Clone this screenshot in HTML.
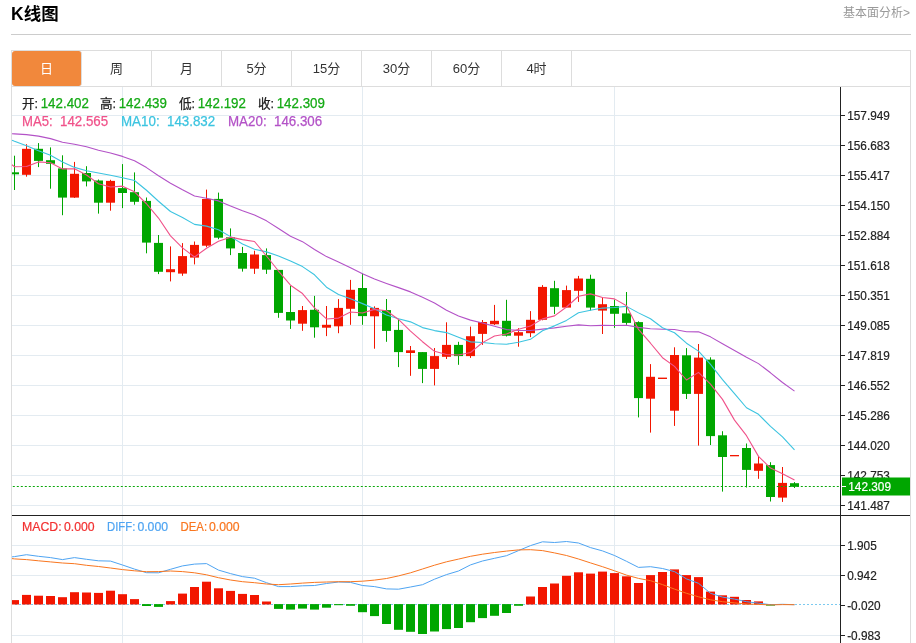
<!DOCTYPE html>
<html lang="zh-CN"><head><meta charset="utf-8"><title>K线图</title>
<style>
html,body{margin:0;padding:0;background:#fff}
body{width:916px;height:643px;overflow:hidden;position:relative;font-family:"Liberation Sans","Noto Sans CJK SC",sans-serif;color:#222}
.title{position:absolute;left:11px;top:2px;font-size:17.5px;font-weight:bold;line-height:24px;color:#000;white-space:nowrap}
.more{position:absolute;right:6px;top:5px;font-size:12px;line-height:16px;color:#999;white-space:nowrap}
.hr{position:absolute;left:11px;top:34px;width:900px;height:1px;background:#ccc}
.tabs{position:absolute;left:11px;top:50px;width:898px;height:35px;border:1px solid #ddd;background:#fff}
.tab{position:absolute;top:0;width:69px;height:35px;border-right:1px solid #ddd;text-align:center;line-height:35px;font-size:13px;color:#333}
.tab.on{background:#f1883c;color:#fff;border-radius:3px}
.frame{position:absolute;left:11px;top:86px;width:898px;height:557px;border-left:1px solid #ddd;border-right:1px solid #ddd}
.chart{position:absolute;left:0;top:0}
</style></head><body>
<div class="title">K线图</div>
<div class="more">基本面分析&gt;</div>
<div class="hr"></div>
<div class="tabs"><div class="tab on" style="left:0px">日</div><div class="tab" style="left:70px">周</div><div class="tab" style="left:140px">月</div><div class="tab" style="left:210px">5分</div><div class="tab" style="left:280px">15分</div><div class="tab" style="left:350px">30分</div><div class="tab" style="left:420px">60分</div><div class="tab" style="left:490px">4时</div></div>
<div class="frame"></div>
<svg class="chart" width="916" height="643" viewBox="0 0 916 643">
<g fill="#e3ebf1" shape-rendering="crispEdges">
<rect x="12" y="115" width="828" height="1"/>
<rect x="12" y="145" width="828" height="1"/>
<rect x="12" y="175" width="828" height="1"/>
<rect x="12" y="205" width="828" height="1"/>
<rect x="12" y="235" width="828" height="1"/>
<rect x="12" y="265" width="828" height="1"/>
<rect x="12" y="295" width="828" height="1"/>
<rect x="12" y="325" width="828" height="1"/>
<rect x="12" y="355" width="828" height="1"/>
<rect x="12" y="385" width="828" height="1"/>
<rect x="12" y="415" width="828" height="1"/>
<rect x="12" y="445" width="828" height="1"/>
<rect x="12" y="475" width="828" height="1"/>
<rect x="12" y="505" width="828" height="1"/>
<rect x="12" y="545" width="828" height="1"/>
<rect x="12" y="575" width="828" height="1"/>
<rect x="12" y="635" width="828" height="1"/>
<rect x="122" y="87" width="1" height="556"/>
<rect x="362" y="87" width="1" height="556"/>
<rect x="614" y="87" width="1" height="556"/>
</g>
<g clip-path="url(#cp)">
<rect x="14" y="155.7" width="1" height="34.3" fill="#00a600"/>
<rect x="10" y="172.3" width="9" height="2.0" fill="#00a600"/>
<rect x="26" y="144.2" width="1" height="32.5" fill="#f21600"/>
<rect x="22" y="148.8" width="9" height="26.0" fill="#f21600"/>
<rect x="38" y="143.1" width="1" height="24.0" fill="#00a600"/>
<rect x="34" y="148.8" width="9" height="12.1" fill="#00a600"/>
<rect x="50" y="147.4" width="1" height="41.3" fill="#00a600"/>
<rect x="46" y="160.2" width="9" height="3.6" fill="#00a600"/>
<rect x="62" y="155.3" width="1" height="59.9" fill="#00a600"/>
<rect x="58" y="168.4" width="9" height="29.2" fill="#00a600"/>
<rect x="74" y="161.9" width="1" height="36.0" fill="#f21600"/>
<rect x="70" y="173.8" width="9" height="23.8" fill="#f21600"/>
<rect x="86" y="166.2" width="1" height="20.2" fill="#00a600"/>
<rect x="82" y="173.0" width="9" height="8.4" fill="#00a600"/>
<rect x="98" y="179.5" width="1" height="34.1" fill="#00a600"/>
<rect x="94" y="180.5" width="9" height="22.2" fill="#00a600"/>
<rect x="110" y="179.8" width="1" height="30.9" fill="#f21600"/>
<rect x="106" y="180.9" width="9" height="21.8" fill="#f21600"/>
<rect x="122" y="164.1" width="1" height="44.0" fill="#00a600"/>
<rect x="118" y="188.1" width="9" height="4.9" fill="#00a600"/>
<rect x="134" y="172.4" width="1" height="32.3" fill="#00a600"/>
<rect x="130" y="192.2" width="9" height="9.6" fill="#00a600"/>
<rect x="146" y="197.5" width="1" height="55.8" fill="#00a600"/>
<rect x="142" y="200.9" width="9" height="41.7" fill="#00a600"/>
<rect x="158" y="235.0" width="1" height="39.1" fill="#00a600"/>
<rect x="154" y="242.9" width="9" height="28.9" fill="#00a600"/>
<rect x="170" y="246.4" width="1" height="35.0" fill="#f21600"/>
<rect x="166" y="269.2" width="9" height="3.0" fill="#f21600"/>
<rect x="182" y="243.1" width="1" height="32.7" fill="#f21600"/>
<rect x="178" y="256.1" width="9" height="17.5" fill="#f21600"/>
<rect x="194" y="241.5" width="1" height="22.9" fill="#f21600"/>
<rect x="190" y="244.9" width="9" height="12.7" fill="#f21600"/>
<rect x="206" y="189.6" width="1" height="57.6" fill="#f21600"/>
<rect x="202" y="198.9" width="9" height="46.8" fill="#f21600"/>
<rect x="218" y="192.6" width="1" height="46.6" fill="#00a600"/>
<rect x="214" y="198.9" width="9" height="38.8" fill="#00a600"/>
<rect x="230" y="228.4" width="1" height="26.7" fill="#00a600"/>
<rect x="226" y="237.3" width="9" height="11.1" fill="#00a600"/>
<rect x="242" y="246.9" width="1" height="24.7" fill="#00a600"/>
<rect x="238" y="253.0" width="9" height="15.7" fill="#00a600"/>
<rect x="254" y="250.7" width="1" height="23.2" fill="#f21600"/>
<rect x="250" y="254.5" width="9" height="14.2" fill="#f21600"/>
<rect x="266" y="248.4" width="1" height="25.5" fill="#00a600"/>
<rect x="262" y="255.1" width="9" height="14.6" fill="#00a600"/>
<rect x="278" y="269.9" width="1" height="47.9" fill="#00a600"/>
<rect x="274" y="269.9" width="9" height="43.0" fill="#00a600"/>
<rect x="290" y="285.7" width="1" height="43.2" fill="#00a600"/>
<rect x="286" y="312.0" width="9" height="8.5" fill="#00a600"/>
<rect x="302" y="306.0" width="1" height="24.8" fill="#f21600"/>
<rect x="298" y="310.1" width="9" height="13.6" fill="#f21600"/>
<rect x="314" y="295.9" width="1" height="41.8" fill="#00a600"/>
<rect x="310" y="309.8" width="9" height="17.5" fill="#00a600"/>
<rect x="326" y="306.0" width="1" height="30.1" fill="#f21600"/>
<rect x="322" y="324.8" width="9" height="2.9" fill="#f21600"/>
<rect x="338" y="299.1" width="1" height="34.1" fill="#f21600"/>
<rect x="334" y="307.9" width="9" height="18.4" fill="#f21600"/>
<rect x="350" y="279.9" width="1" height="44.9" fill="#f21600"/>
<rect x="346" y="289.8" width="9" height="19.0" fill="#f21600"/>
<rect x="362" y="273.5" width="1" height="51.3" fill="#00a600"/>
<rect x="358" y="288.0" width="9" height="28.1" fill="#00a600"/>
<rect x="374" y="306.3" width="1" height="42.4" fill="#f21600"/>
<rect x="370" y="307.9" width="9" height="8.4" fill="#f21600"/>
<rect x="386" y="299.0" width="1" height="42.8" fill="#00a600"/>
<rect x="382" y="310.1" width="9" height="20.8" fill="#00a600"/>
<rect x="398" y="318.9" width="1" height="48.2" fill="#00a600"/>
<rect x="394" y="329.9" width="9" height="22.2" fill="#00a600"/>
<rect x="410" y="346.0" width="1" height="29.8" fill="#f21600"/>
<rect x="406" y="350.3" width="9" height="2.7" fill="#f21600"/>
<rect x="422" y="352.1" width="1" height="31.0" fill="#00a600"/>
<rect x="418" y="352.1" width="9" height="16.8" fill="#00a600"/>
<rect x="434" y="348.0" width="1" height="37.4" fill="#f21600"/>
<rect x="430" y="356.1" width="9" height="12.8" fill="#f21600"/>
<rect x="446" y="322.3" width="1" height="36.7" fill="#f21600"/>
<rect x="442" y="344.9" width="9" height="11.9" fill="#f21600"/>
<rect x="458" y="341.8" width="1" height="23.0" fill="#00a600"/>
<rect x="454" y="344.9" width="9" height="11.2" fill="#00a600"/>
<rect x="470" y="326.6" width="1" height="31.3" fill="#f21600"/>
<rect x="466" y="336.2" width="9" height="19.9" fill="#f21600"/>
<rect x="482" y="320.0" width="1" height="24.9" fill="#f21600"/>
<rect x="478" y="322.0" width="9" height="11.9" fill="#f21600"/>
<rect x="494" y="304.9" width="1" height="20.1" fill="#f21600"/>
<rect x="490" y="320.8" width="9" height="3.5" fill="#f21600"/>
<rect x="506" y="299.8" width="1" height="36.7" fill="#00a600"/>
<rect x="502" y="320.8" width="9" height="14.9" fill="#00a600"/>
<rect x="518" y="328.1" width="1" height="18.6" fill="#f21600"/>
<rect x="514" y="332.2" width="9" height="3.5" fill="#f21600"/>
<rect x="530" y="311.1" width="1" height="26.0" fill="#f21600"/>
<rect x="526" y="319.8" width="9" height="13.4" fill="#f21600"/>
<rect x="542" y="285.1" width="1" height="35.2" fill="#f21600"/>
<rect x="538" y="286.9" width="9" height="32.9" fill="#f21600"/>
<rect x="554" y="280.8" width="1" height="33.3" fill="#00a600"/>
<rect x="550" y="288.2" width="9" height="18.6" fill="#00a600"/>
<rect x="566" y="285.6" width="1" height="22.0" fill="#f21600"/>
<rect x="562" y="290.1" width="9" height="17.5" fill="#f21600"/>
<rect x="578" y="275.9" width="1" height="26.0" fill="#f21600"/>
<rect x="574" y="278.5" width="9" height="12.3" fill="#f21600"/>
<rect x="590" y="274.7" width="1" height="35.9" fill="#00a600"/>
<rect x="586" y="278.8" width="9" height="28.8" fill="#00a600"/>
<rect x="602" y="297.3" width="1" height="36.7" fill="#f21600"/>
<rect x="598" y="304.2" width="9" height="6.4" fill="#f21600"/>
<rect x="614" y="299.6" width="1" height="28.3" fill="#00a600"/>
<rect x="610" y="306.0" width="9" height="7.8" fill="#00a600"/>
<rect x="626" y="292.0" width="1" height="32.8" fill="#00a600"/>
<rect x="622" y="313.4" width="9" height="9.5" fill="#00a600"/>
<rect x="638" y="321.3" width="1" height="96.1" fill="#00a600"/>
<rect x="634" y="322.1" width="9" height="76.0" fill="#00a600"/>
<rect x="650" y="364.1" width="1" height="68.5" fill="#f21600"/>
<rect x="646" y="376.8" width="9" height="21.9" fill="#f21600"/>
<rect x="658" y="377.6" width="9" height="1.4" fill="#f21600"/>
<rect x="674" y="347.3" width="1" height="78.6" fill="#f21600"/>
<rect x="670" y="355.0" width="9" height="55.7" fill="#f21600"/>
<rect x="686" y="348.1" width="1" height="50.9" fill="#00a600"/>
<rect x="682" y="355.3" width="9" height="38.6" fill="#00a600"/>
<rect x="698" y="344.0" width="1" height="101.6" fill="#f21600"/>
<rect x="694" y="357.6" width="9" height="36.3" fill="#f21600"/>
<rect x="710" y="357.3" width="1" height="87.7" fill="#00a600"/>
<rect x="706" y="359.6" width="9" height="76.5" fill="#00a600"/>
<rect x="722" y="431.2" width="1" height="60.4" fill="#00a600"/>
<rect x="718" y="435.3" width="9" height="21.7" fill="#00a600"/>
<rect x="730" y="455.0" width="9" height="1.3" fill="#f21600"/>
<rect x="746" y="443.5" width="1" height="44.0" fill="#00a600"/>
<rect x="742" y="448.0" width="9" height="21.9" fill="#00a600"/>
<rect x="758" y="456.2" width="1" height="22.6" fill="#f21600"/>
<rect x="754" y="463.5" width="9" height="7.3" fill="#f21600"/>
<rect x="770" y="462.2" width="1" height="39.3" fill="#00a600"/>
<rect x="766" y="465.1" width="9" height="31.9" fill="#00a600"/>
<rect x="782" y="467.0" width="1" height="34.9" fill="#f21600"/>
<rect x="778" y="482.9" width="9" height="14.7" fill="#f21600"/>
<rect x="794" y="482.1" width="1" height="5.9" fill="#00a600"/>
<rect x="790" y="483.2" width="9" height="3.6" fill="#00a600"/>
</g>
<defs><clipPath id="cp"><rect x="12" y="87" width="828" height="556"/></clipPath></defs>
<path d="M12.0,133.70 L14.5,133.90 L26.5,134.60 L38.5,136.10 L50.5,138.60 L62.5,142.30 L74.5,144.20 L86.5,146.80 L98.5,150.30 L110.5,153.00 L122.5,156.40 L134.5,160.80 L146.5,167.60 L158.5,175.80 L170.5,183.20 L182.5,189.80 L194.5,196.00 L206.5,198.30 L218.5,200.90 L230.5,205.90 L242.5,210.83 L254.5,214.99 L266.5,220.86 L278.5,228.56 L290.5,236.23 L302.5,241.64 L314.5,249.43 L326.5,256.61 L338.5,262.09 L350.5,267.76 L362.5,273.74 L374.5,279.04 L386.5,283.40 L398.5,287.61 L410.5,291.89 L422.5,297.31 L434.5,302.94 L446.5,310.19 L458.5,316.05 L470.5,320.14 L482.5,322.97 L494.5,326.18 L506.5,329.58 L518.5,330.41 L530.5,330.50 L542.5,329.17 L554.5,327.86 L566.5,326.24 L578.5,324.90 L590.5,325.80 L602.5,325.40 L614.5,325.55 L626.5,325.30 L638.5,327.40 L650.5,328.76 L662.5,329.18 L674.5,329.50 L686.5,331.68 L698.5,331.86 L710.5,336.86 L722.5,343.69 L734.5,350.49 L746.5,357.29 L758.5,363.63 L770.5,372.81 L782.5,382.46 L794.5,391.16" fill="none" stroke="#b352c7" stroke-width="1.1" stroke-linejoin="round" />
<path d="M12.0,140.30 L14.5,141.30 L26.5,145.70 L38.5,150.70 L50.5,155.30 L62.5,162.10 L74.5,167.40 L86.5,170.70 L98.5,173.00 L110.5,175.30 L122.5,177.76 L134.5,180.48 L146.5,190.28 L158.5,201.22 L170.5,211.54 L182.5,217.52 L194.5,224.37 L206.5,226.15 L218.5,229.79 L230.5,236.62 L242.5,244.00 L254.5,249.19 L266.5,251.89 L278.5,255.90 L290.5,260.91 L302.5,266.62 L314.5,274.78 L326.5,287.23 L338.5,294.44 L350.5,298.81 L362.5,303.63 L374.5,308.80 L386.5,314.91 L398.5,318.82 L410.5,321.86 L422.5,327.60 L434.5,330.59 L446.5,332.59 L458.5,337.31 L470.5,341.87 L482.5,342.52 L494.5,343.76 L506.5,344.21 L518.5,342.31 L530.5,339.33 L542.5,330.78 L554.5,325.87 L566.5,320.38 L578.5,312.75 L590.5,310.17 L602.5,308.08 L614.5,307.43 L626.5,306.39 L638.5,312.88 L650.5,318.78 L662.5,327.72 L674.5,332.78 L686.5,343.17 L698.5,351.12 L710.5,364.40 L722.5,379.69 L734.5,393.60 L746.5,407.75 L758.5,414.32 L770.5,426.43 L782.5,436.94 L794.5,449.88" fill="none" stroke="#3cc4e0" stroke-width="1.1" stroke-linejoin="round" />
<path d="M12.0,164.80 L14.5,166.70 L26.5,166.50 L38.5,161.90 L50.5,162.80 L62.5,168.89 L74.5,168.84 L86.5,175.05 L98.5,183.68 L110.5,187.04 L122.5,186.13 L134.5,191.78 L146.5,203.75 L158.5,218.06 L170.5,235.84 L182.5,247.90 L194.5,256.96 L206.5,248.24 L218.5,241.23 L230.5,237.15 L242.5,239.61 L254.5,241.52 L266.5,256.00 L278.5,271.02 L290.5,285.18 L302.5,293.57 L314.5,307.95 L326.5,318.96 L338.5,318.11 L350.5,311.99 L362.5,312.94 L374.5,309.35 L386.5,310.81 L398.5,319.43 L410.5,331.08 L422.5,341.71 L434.5,351.33 L446.5,354.43 L458.5,355.03 L470.5,352.47 L482.5,342.63 L494.5,336.00 L506.5,333.93 L518.5,329.24 L530.5,326.00 L542.5,318.89 L554.5,315.89 L566.5,306.98 L578.5,296.26 L590.5,293.89 L602.5,297.52 L614.5,298.87 L626.5,305.70 L638.5,329.41 L650.5,343.23 L662.5,357.72 L674.5,366.39 L686.5,379.99 L698.5,372.34 L710.5,384.17 L722.5,399.36 L734.5,420.11 L746.5,435.71 L758.5,456.40 L770.5,468.09 L782.5,473.83 L794.5,479.91" fill="none" stroke="#f0528a" stroke-width="1.1" stroke-linejoin="round" />
<path d="M12.8,486.5 H840" stroke="#0aa80a" stroke-width="1" stroke-dasharray="2,2" fill="none"/>
<path d="M15,604.5 H840" stroke="#7ccaf0" stroke-width="1" stroke-dasharray="2,2" fill="none"/>
<g clip-path="url(#cp)">
<rect x="10" y="600.1" width="9" height="4.4" fill="#f21600"/>
<rect x="22" y="594.9" width="9" height="9.6" fill="#f21600"/>
<rect x="34" y="595.7" width="9" height="8.8" fill="#f21600"/>
<rect x="46" y="596.0" width="9" height="8.5" fill="#f21600"/>
<rect x="58" y="597.2" width="9" height="7.3" fill="#f21600"/>
<rect x="70" y="592.2" width="9" height="12.3" fill="#f21600"/>
<rect x="82" y="592.5" width="9" height="12.0" fill="#f21600"/>
<rect x="94" y="592.9" width="9" height="11.6" fill="#f21600"/>
<rect x="106" y="590.7" width="9" height="13.8" fill="#f21600"/>
<rect x="118" y="594.2" width="9" height="10.3" fill="#f21600"/>
<rect x="130" y="599.1" width="9" height="5.4" fill="#f21600"/>
<rect x="142" y="604.1" width="9" height="1.9" fill="#00a600"/>
<rect x="154" y="604.1" width="9" height="2.8" fill="#00a600"/>
<rect x="166" y="601.1" width="9" height="3.4" fill="#f21600"/>
<rect x="178" y="593.6" width="9" height="10.9" fill="#f21600"/>
<rect x="190" y="587.0" width="9" height="17.5" fill="#f21600"/>
<rect x="202" y="581.7" width="9" height="22.8" fill="#f21600"/>
<rect x="214" y="588.3" width="9" height="16.2" fill="#f21600"/>
<rect x="226" y="590.9" width="9" height="13.6" fill="#f21600"/>
<rect x="238" y="593.9" width="9" height="10.6" fill="#f21600"/>
<rect x="250" y="595.0" width="9" height="9.5" fill="#f21600"/>
<rect x="262" y="601.5" width="9" height="3.0" fill="#f21600"/>
<rect x="274" y="604.1" width="9" height="4.8" fill="#00a600"/>
<rect x="286" y="604.1" width="9" height="5.5" fill="#00a600"/>
<rect x="298" y="604.1" width="9" height="4.5" fill="#00a600"/>
<rect x="310" y="604.1" width="9" height="5.5" fill="#00a600"/>
<rect x="322" y="604.1" width="9" height="3.6" fill="#00a600"/>
<rect x="334" y="604.1" width="9" height="1.1" fill="#00a600"/>
<rect x="346" y="604.1" width="9" height="1.7" fill="#00a600"/>
<rect x="358" y="604.1" width="9" height="8.1" fill="#00a600"/>
<rect x="370" y="604.1" width="9" height="12.0" fill="#00a600"/>
<rect x="382" y="604.1" width="9" height="19.9" fill="#00a600"/>
<rect x="394" y="604.1" width="9" height="25.7" fill="#00a600"/>
<rect x="406" y="604.1" width="9" height="27.7" fill="#00a600"/>
<rect x="418" y="604.1" width="9" height="29.9" fill="#00a600"/>
<rect x="430" y="604.1" width="9" height="27.4" fill="#00a600"/>
<rect x="442" y="604.1" width="9" height="25.0" fill="#00a600"/>
<rect x="454" y="604.1" width="9" height="23.9" fill="#00a600"/>
<rect x="466" y="604.1" width="9" height="18.1" fill="#00a600"/>
<rect x="478" y="604.1" width="9" height="14.0" fill="#00a600"/>
<rect x="490" y="604.1" width="9" height="11.7" fill="#00a600"/>
<rect x="502" y="604.1" width="9" height="8.9" fill="#00a600"/>
<rect x="514" y="604.1" width="9" height="1.7" fill="#00a600"/>
<rect x="526" y="596.5" width="9" height="8.0" fill="#f21600"/>
<rect x="538" y="587.0" width="9" height="17.5" fill="#f21600"/>
<rect x="550" y="583.5" width="9" height="21.0" fill="#f21600"/>
<rect x="562" y="575.8" width="9" height="28.7" fill="#f21600"/>
<rect x="574" y="572.3" width="9" height="32.2" fill="#f21600"/>
<rect x="586" y="573.6" width="9" height="30.9" fill="#f21600"/>
<rect x="598" y="571.6" width="9" height="32.9" fill="#f21600"/>
<rect x="610" y="573.1" width="9" height="31.4" fill="#f21600"/>
<rect x="622" y="576.3" width="9" height="28.2" fill="#f21600"/>
<rect x="634" y="583.0" width="9" height="21.5" fill="#f21600"/>
<rect x="646" y="575.1" width="9" height="29.4" fill="#f21600"/>
<rect x="658" y="572.0" width="9" height="32.5" fill="#f21600"/>
<rect x="670" y="569.4" width="9" height="35.1" fill="#f21600"/>
<rect x="682" y="575.1" width="9" height="29.4" fill="#f21600"/>
<rect x="694" y="577.1" width="9" height="27.4" fill="#f21600"/>
<rect x="706" y="591.6" width="9" height="12.9" fill="#f21600"/>
<rect x="718" y="595.3" width="9" height="9.2" fill="#f21600"/>
<rect x="730" y="596.8" width="9" height="7.7" fill="#f21600"/>
<rect x="742" y="600.0" width="9" height="4.5" fill="#f21600"/>
<rect x="754" y="601.4" width="9" height="3.1" fill="#f21600"/>
<rect x="766" y="604.1" width="9" height="1.5" fill="#00a600"/>
</g>
<path d="M12.0,556.90 L14.5,556.60 L26.5,554.70 L38.5,556.30 L50.5,557.60 L62.5,559.60 L74.5,557.60 L86.5,559.30 L98.5,560.80 L110.5,561.10 L122.5,565.00 L134.5,569.10 L146.5,572.70 L158.5,572.80 L170.5,569.30 L182.5,565.90 L194.5,564.10 L206.5,563.60 L218.5,570.10 L230.5,573.60 L242.5,576.60 L254.5,578.20 L266.5,582.70 L278.5,586.60 L290.5,586.60 L302.5,585.80 L314.5,585.50 L326.5,583.50 L338.5,582.00 L350.5,582.40 L362.5,585.50 L374.5,586.60 L386.5,588.90 L398.5,589.20 L410.5,587.00 L422.5,584.70 L434.5,579.20 L446.5,574.60 L458.5,571.00 L470.5,564.90 L482.5,561.00 L494.5,558.30 L506.5,555.70 L518.5,550.60 L530.5,545.60 L542.5,541.80 L554.5,542.50 L566.5,541.50 L578.5,543.00 L590.5,547.60 L602.5,550.90 L614.5,555.50 L626.5,561.30 L638.5,567.40 L650.5,566.70 L662.5,568.50 L674.5,571.60 L686.5,578.90 L698.5,583.30 L710.5,593.30 L722.5,597.10 L734.5,599.10 L746.5,601.70 L758.5,603.20 L770.5,604.70 L782.5,604.30 L794.5,604.70" fill="none" stroke="#4ea4f2" stroke-width="1.0" stroke-linejoin="round" />
<path d="M12.0,558.60 L14.5,558.90 L26.5,559.60 L38.5,560.80 L50.5,561.90 L62.5,563.00 L74.5,563.70 L86.5,565.30 L98.5,566.50 L110.5,568.00 L122.5,569.60 L134.5,570.80 L146.5,571.70 L158.5,571.60 L170.5,571.00 L182.5,571.60 L194.5,572.80 L206.5,574.80 L218.5,577.70 L230.5,580.00 L242.5,581.70 L254.5,582.70 L266.5,584.00 L278.5,584.70 L290.5,584.00 L302.5,583.10 L314.5,582.40 L326.5,582.00 L338.5,581.70 L350.5,581.70 L362.5,581.20 L374.5,580.10 L386.5,578.50 L398.5,575.90 L410.5,572.80 L422.5,569.00 L434.5,565.20 L446.5,561.80 L458.5,559.10 L470.5,556.30 L482.5,554.20 L494.5,552.50 L506.5,551.10 L518.5,549.90 L530.5,549.70 L542.5,550.60 L554.5,552.90 L566.5,555.50 L578.5,559.00 L590.5,562.90 L602.5,566.70 L614.5,570.80 L626.5,575.10 L638.5,578.40 L650.5,580.70 L662.5,584.60 L674.5,589.10 L686.5,593.30 L698.5,596.80 L710.5,599.80 L722.5,601.70 L734.5,602.90 L746.5,604.00 L758.5,604.40 L770.5,604.90 L782.5,604.60 L794.5,604.70" fill="none" stroke="#f9761f" stroke-width="1.0" stroke-linejoin="round" />
<g fill="#222" shape-rendering="crispEdges">
<rect x="840" y="87" width="1" height="556"/>
<rect x="12" y="515" width="898" height="1"/>
<rect x="841" y="115" width="4" height="1"/>
<rect x="841" y="145" width="4" height="1"/>
<rect x="841" y="175" width="4" height="1"/>
<rect x="841" y="205" width="4" height="1"/>
<rect x="841" y="235" width="4" height="1"/>
<rect x="841" y="265" width="4" height="1"/>
<rect x="841" y="295" width="4" height="1"/>
<rect x="841" y="325" width="4" height="1"/>
<rect x="841" y="355" width="4" height="1"/>
<rect x="841" y="385" width="4" height="1"/>
<rect x="841" y="415" width="4" height="1"/>
<rect x="841" y="445" width="4" height="1"/>
<rect x="841" y="475" width="4" height="1"/>
<rect x="841" y="505" width="4" height="1"/>
<rect x="841" y="545" width="4" height="1"/>
<rect x="841" y="575" width="4" height="1"/>
<rect x="841" y="605" width="4" height="1"/>
<rect x="841" y="635" width="4" height="1"/>
</g>
<g font-family="'Liberation Sans',sans-serif" font-size="12.4" fill="#222" stroke="#222" stroke-width="0.2">
<text x="847.2" y="119.7" textLength="42.68" lengthAdjust="spacingAndGlyphs">157.949</text>
<text x="847.2" y="149.7" textLength="42.68" lengthAdjust="spacingAndGlyphs">156.683</text>
<text x="847.2" y="179.7" textLength="42.68" lengthAdjust="spacingAndGlyphs">155.417</text>
<text x="847.2" y="209.7" textLength="42.68" lengthAdjust="spacingAndGlyphs">154.150</text>
<text x="847.2" y="239.7" textLength="42.68" lengthAdjust="spacingAndGlyphs">152.884</text>
<text x="847.2" y="269.7" textLength="42.68" lengthAdjust="spacingAndGlyphs">151.618</text>
<text x="847.2" y="299.7" textLength="42.68" lengthAdjust="spacingAndGlyphs">150.351</text>
<text x="847.2" y="329.7" textLength="42.68" lengthAdjust="spacingAndGlyphs">149.085</text>
<text x="847.2" y="359.7" textLength="42.68" lengthAdjust="spacingAndGlyphs">147.819</text>
<text x="847.2" y="389.7" textLength="42.68" lengthAdjust="spacingAndGlyphs">146.552</text>
<text x="847.2" y="419.7" textLength="42.68" lengthAdjust="spacingAndGlyphs">145.286</text>
<text x="847.2" y="449.7" textLength="42.68" lengthAdjust="spacingAndGlyphs">144.020</text>
<text x="847.2" y="479.7" textLength="42.68" lengthAdjust="spacingAndGlyphs">142.753</text>
<text x="847.2" y="509.7" textLength="42.68" lengthAdjust="spacingAndGlyphs">141.487</text>
<text x="847.2" y="549.7" textLength="29.55" lengthAdjust="spacingAndGlyphs">1.905</text>
<text x="847.2" y="579.7" textLength="29.55" lengthAdjust="spacingAndGlyphs">0.942</text>
<text x="847.2" y="609.7" textLength="33.48" lengthAdjust="spacingAndGlyphs">-0.020</text>
<text x="847.2" y="639.7" textLength="33.48" lengthAdjust="spacingAndGlyphs">-0.983</text>
</g>
<rect x="842" y="477.5" width="68" height="18" fill="#00a600"/>
<rect x="842" y="486" width="4" height="1" fill="#fff" shape-rendering="crispEdges"/>
<text x="848.3" y="490.9" font-family="'Liberation Sans',sans-serif" font-size="12.4" fill="#fff" stroke="#fff" stroke-width="0.2" textLength="42.68" lengthAdjust="spacingAndGlyphs">142.309</text>
<g font-family="'Liberation Sans','Noto Sans CJK SC',sans-serif" font-size="14" stroke-width="0.25">
<text x="22" y="108" fill="#222" stroke="#222" font-size="12.6">开:</text>
<text x="40.7" y="108" fill="#14aa14" stroke="#14aa14" textLength="48.2" lengthAdjust="spacingAndGlyphs">142.402</text>
<text x="100" y="108" fill="#222" stroke="#222" font-size="12.6">高:</text>
<text x="118.7" y="108" fill="#14aa14" stroke="#14aa14" textLength="48.2" lengthAdjust="spacingAndGlyphs">142.439</text>
<text x="179" y="108" fill="#222" stroke="#222" font-size="12.6">低:</text>
<text x="197.7" y="108" fill="#14aa14" stroke="#14aa14" textLength="48.2" lengthAdjust="spacingAndGlyphs">142.192</text>
<text x="258" y="108" fill="#222" stroke="#222" font-size="12.6">收:</text>
<text x="276.7" y="108" fill="#14aa14" stroke="#14aa14" textLength="48.2" lengthAdjust="spacingAndGlyphs">142.309</text>
<text x="22" y="126" fill="#f0528a" stroke="#f0528a" textLength="30.6" lengthAdjust="spacingAndGlyphs">MA5:</text>
<text x="60" y="126" fill="#f0528a" stroke="#f0528a" textLength="48.2" lengthAdjust="spacingAndGlyphs">142.565</text>
<text x="121" y="126" fill="#3cc4e0" stroke="#3cc4e0" textLength="38.6" lengthAdjust="spacingAndGlyphs">MA10:</text>
<text x="167" y="126" fill="#3cc4e0" stroke="#3cc4e0" textLength="48.2" lengthAdjust="spacingAndGlyphs">143.832</text>
<text x="228" y="126" fill="#b352c7" stroke="#b352c7" textLength="38.6" lengthAdjust="spacingAndGlyphs">MA20:</text>
<text x="274" y="126" fill="#b352c7" stroke="#b352c7" textLength="48.2" lengthAdjust="spacingAndGlyphs">146.306</text>
</g>
<g font-family="'Liberation Sans','Noto Sans CJK SC',sans-serif" font-size="12.5" stroke-width="0.2">
<text x="22" y="531" fill="#f23030" stroke="#f23030" textLength="39.6" lengthAdjust="spacingAndGlyphs">MACD:</text>
<text x="64" y="531" fill="#f23030" stroke="#f23030" textLength="30.6" lengthAdjust="spacingAndGlyphs">0.000</text>
<text x="107" y="531" fill="#4ea4f2" stroke="#4ea4f2" textLength="28.3" lengthAdjust="spacingAndGlyphs">DIFF:</text>
<text x="137.4" y="531" fill="#4ea4f2" stroke="#4ea4f2" textLength="30.6" lengthAdjust="spacingAndGlyphs">0.000</text>
<text x="180.6" y="531" fill="#f9761f" stroke="#f9761f" textLength="26.5" lengthAdjust="spacingAndGlyphs">DEA:</text>
<text x="209" y="531" fill="#f9761f" stroke="#f9761f" textLength="30.6" lengthAdjust="spacingAndGlyphs">0.000</text>
</g>
</svg>
</body></html>
